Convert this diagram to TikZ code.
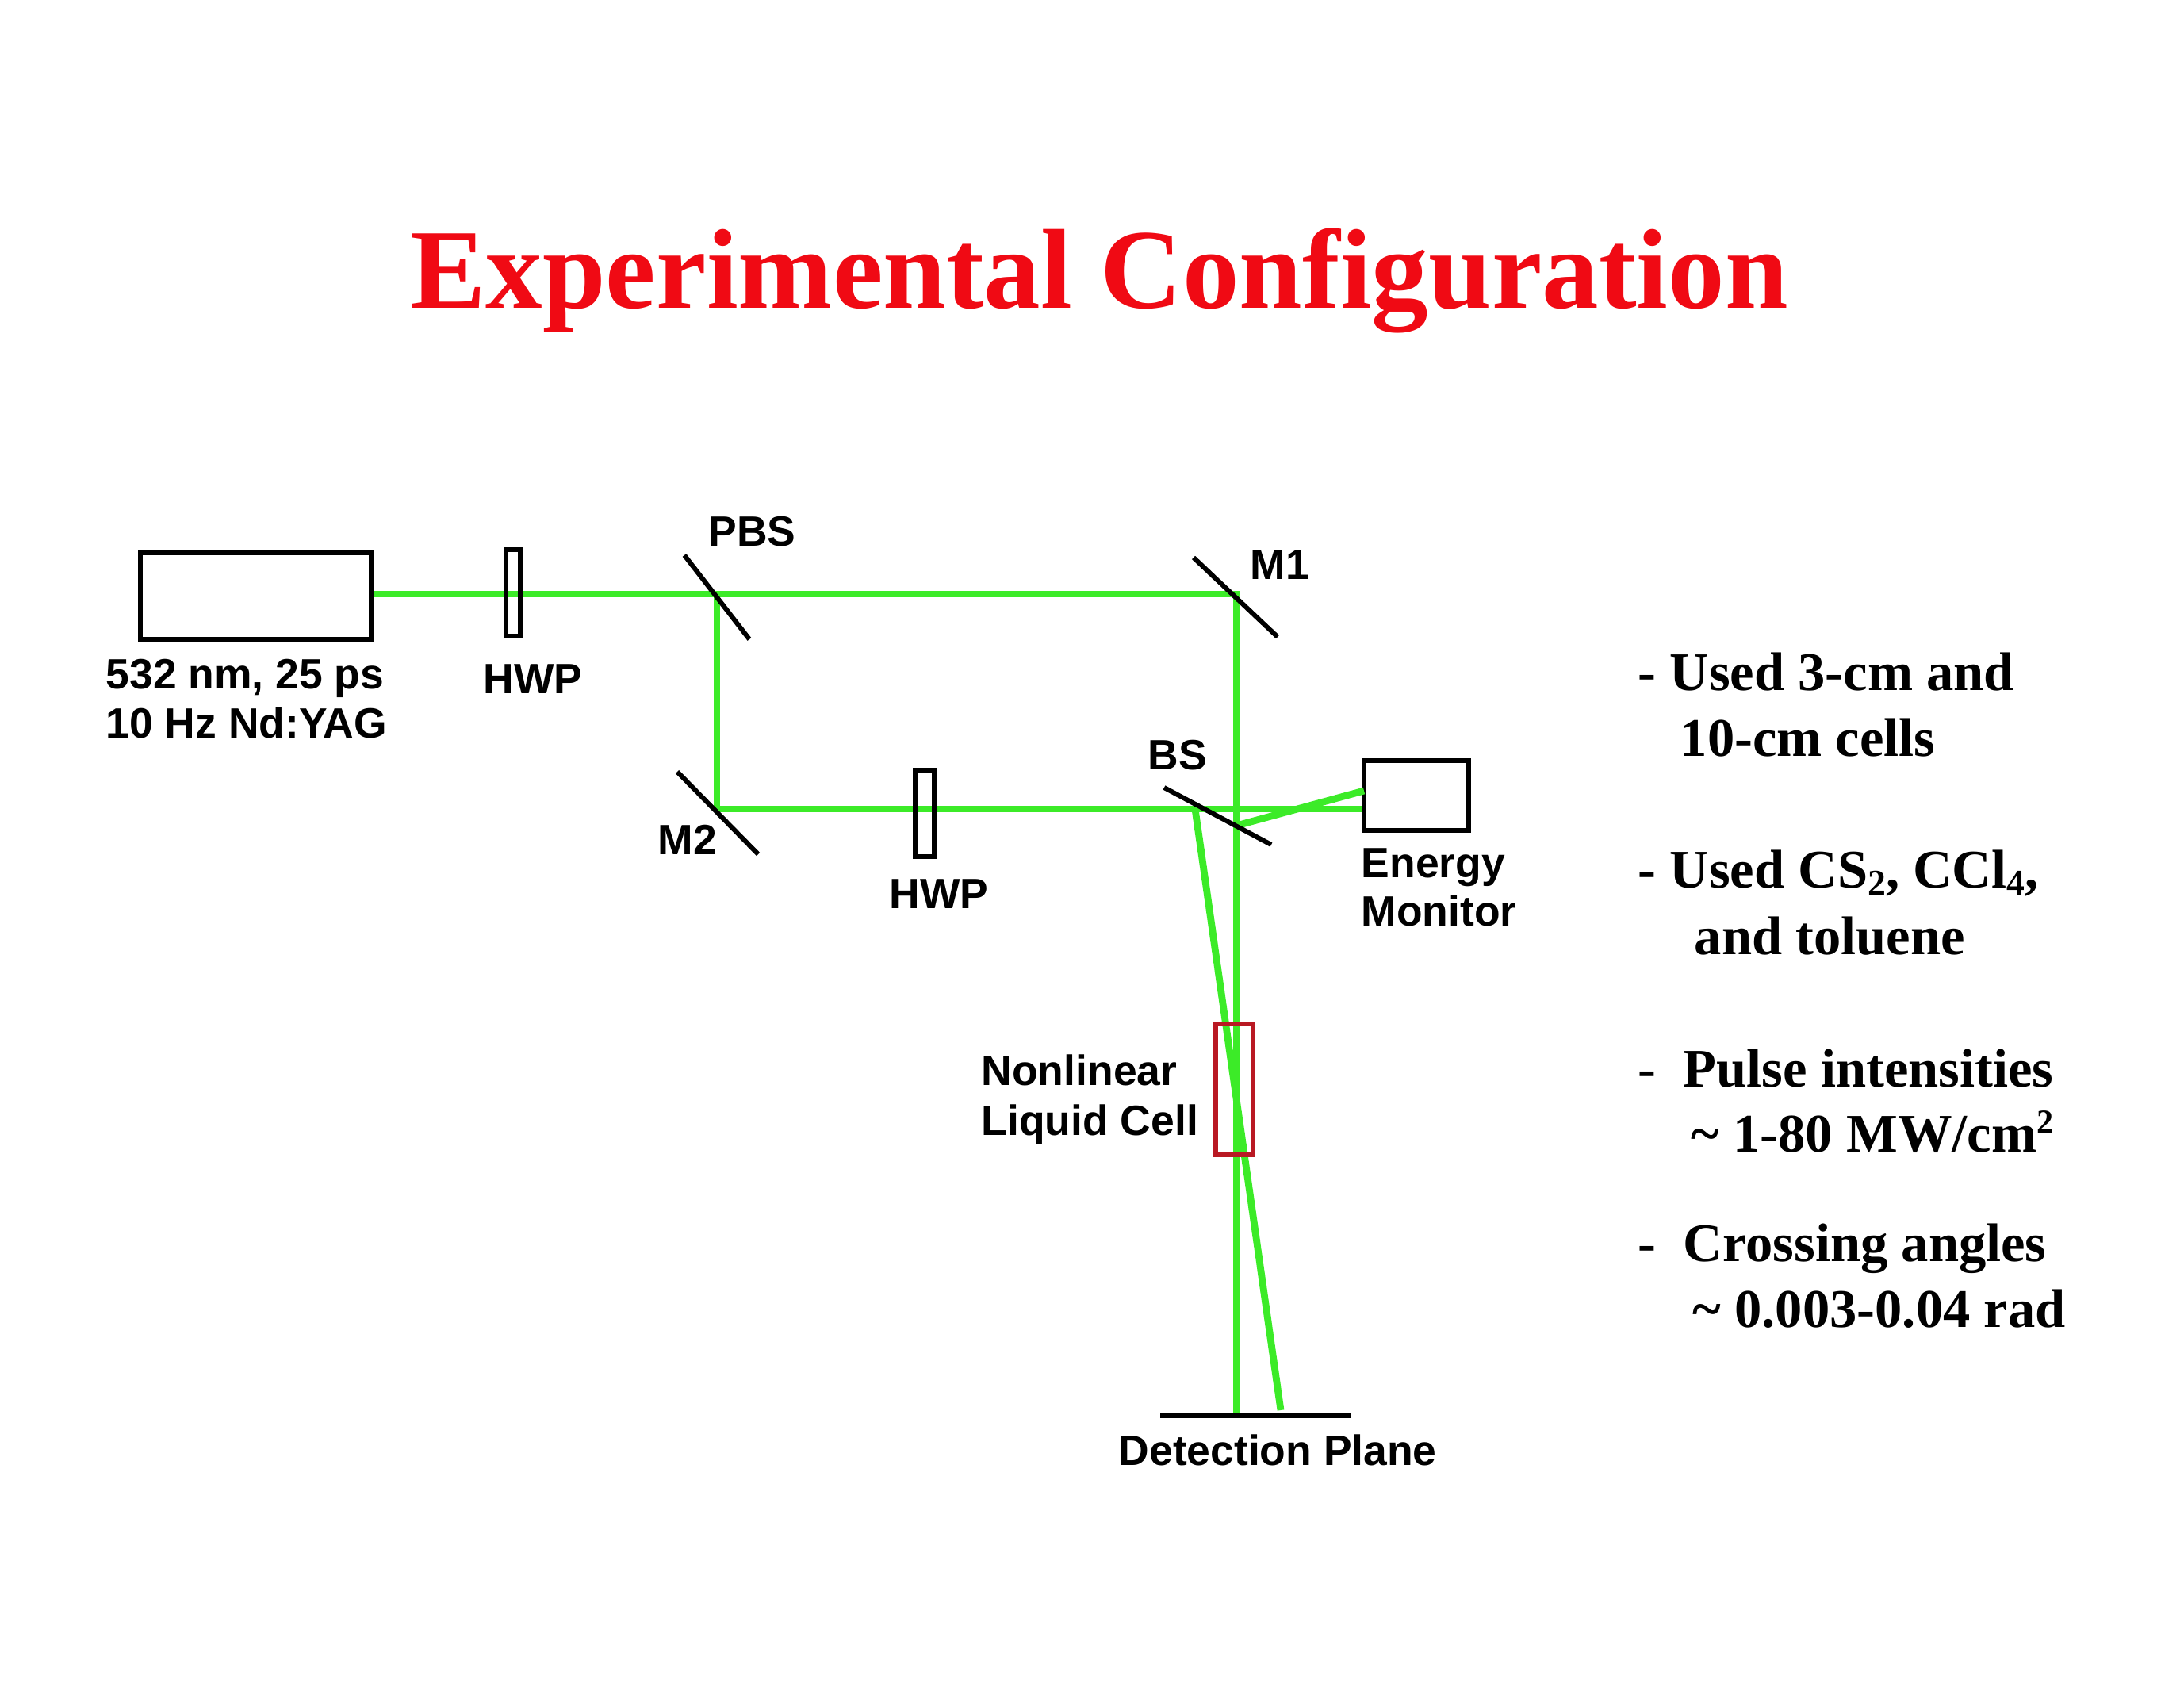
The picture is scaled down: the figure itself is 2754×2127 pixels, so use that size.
\documentclass[tikz,border=0pt]{standalone}
\usepackage{fontspec}
\setmainfont{Liberation Serif}
\newfontfamily\arialfont{Liberation Sans}
\definecolor{beamgreen}{RGB}{60,235,40}
\definecolor{titlered}{RGB}{240,10,20}
\definecolor{cellred}{RGB}{185,25,35}
\begin{document}
\begin{tikzpicture}[x=0.01cm,y=-0.01cm,
  beam/.style={draw=beamgreen,line width=2.5pt,line join=miter},
  optic/.style={draw=black,line width=1.7pt},
  lab/.style={font=\arialfont\bfseries\fontsize{15.2}{18}\selectfont,inner sep=0pt,anchor=base west},
  note/.style={font=\bfseries\fontsize{19.5}{23}\selectfont,inner sep=0pt,anchor=base west},
  box/.style={draw,line width=1.7pt,rectangle,inner sep=0pt}]
\useasboundingbox[fill=white] (0,0) rectangle (2754,2127);

% title
\node[font=\bfseries\fontsize{40.7}{48}\selectfont,text=titlered,inner sep=0pt,anchor=base] (title) at (1386,388) {Experimental Configuration};

% beam coordinates
\coordinate (pbs) at (904,749);
\coordinate (m1) at (1559,749);
\coordinate (m2) at (904,1020);
\coordinate (dp) at (1559,1785);
\coordinate (bsr) at (1559,1041);
\coordinate (emin) at (1720,997);
\coordinate (bsd) at (1507,1020);
\coordinate (dpa) at (1615,1778);

% boxes
\node[box,minimum width=2.91cm,minimum height=1.09cm] (laser) at (322.5,751.5) {};
\node[box,minimum width=1.32cm,minimum height=0.88cm] (em) at (1786,1003) {};

% beams
\draw[beam] (laser.east |- pbs) -- (m1) -- (dp);
\draw[beam] (pbs) -- (m2) -- (em.west |- m2);
\draw[beam] (bsr) -- (emin);
\draw[beam] (bsd) -- (dpa);

% plates and cell over beams
\node[box,minimum width=0.18cm,minimum height=1.09cm] (hwpa) at (647,747.5) {};
\node[box,minimum width=0.24cm,minimum height=1.09cm] (hwpb) at (1166,1025.5) {};
\node[box,draw=cellred,minimum width=0.47cm,minimum height=1.65cm] (cell) at (1556.5,1373.5) {};

% mirrors
\draw[optic] (863,700) -- (945,806);
\draw[optic] (1505,703) -- (1611,803);
\draw[optic] (854,973) -- (956,1077);
\draw[optic] (1468,993) -- (1603,1065);
\draw[optic] (1463,1785) -- (1703,1785);

% labels
\node[lab] (l532) at (133,868) {532 nm, 25 ps};
\node[lab] (lyag) at (133,930) {10 Hz Nd:YAG};
\node[lab] (lhwpa) at (609,874) {HWP};
\node[lab] (lpbs) at (893,688) {PBS};
\node[lab] (lm1) at (1576,730) {M1};
\node[lab] (lm2) at (829,1077) {M2};
\node[lab] (lhwpb) at (1121,1145) {HWP};
\node[lab] (lbs) at (1447,970) {BS};
\node[lab] (lem1) at (1716,1106) {Energy};
\node[lab] (lem2) at (1716,1167) {Monitor};
\node[lab] (lnl1) at (1237,1368) {Nonlinear};
\node[lab] (lnl2) at (1237,1431) {Liquid Cell};
\node[lab] (ldp) at (1410,1847) {Detection Plane};

% notes
\node[note] (n1) at (2065,870) {- Used 3-cm and};
\node[note] (n2) at (2118,953) {10-cm cells};
\node[note] (n3) at (2065,1119) {- Used CS\raisebox{-0.3ex}{\fontsize{13}{13}\selectfont 2}, CCl\raisebox{-0.3ex}{\fontsize{13}{13}\selectfont 4},};
\node[note] (n4) at (2136,1203) {and toluene};
\node[note] (n5) at (2065,1370) {-\ \ Pulse intensities};
\node[note] (n6) at (2132,1452) {\textasciitilde\ 1-80 MW/cm\raisebox{0.75ex}{\fontsize{12}{12}\selectfont 2}};
\node[note] (n7) at (2065,1590) {-\ \ Crossing angles};
\node[note] (n8) at (2134,1673) {\textasciitilde\ 0.003-0.04 rad};
\end{tikzpicture}
\end{document}
